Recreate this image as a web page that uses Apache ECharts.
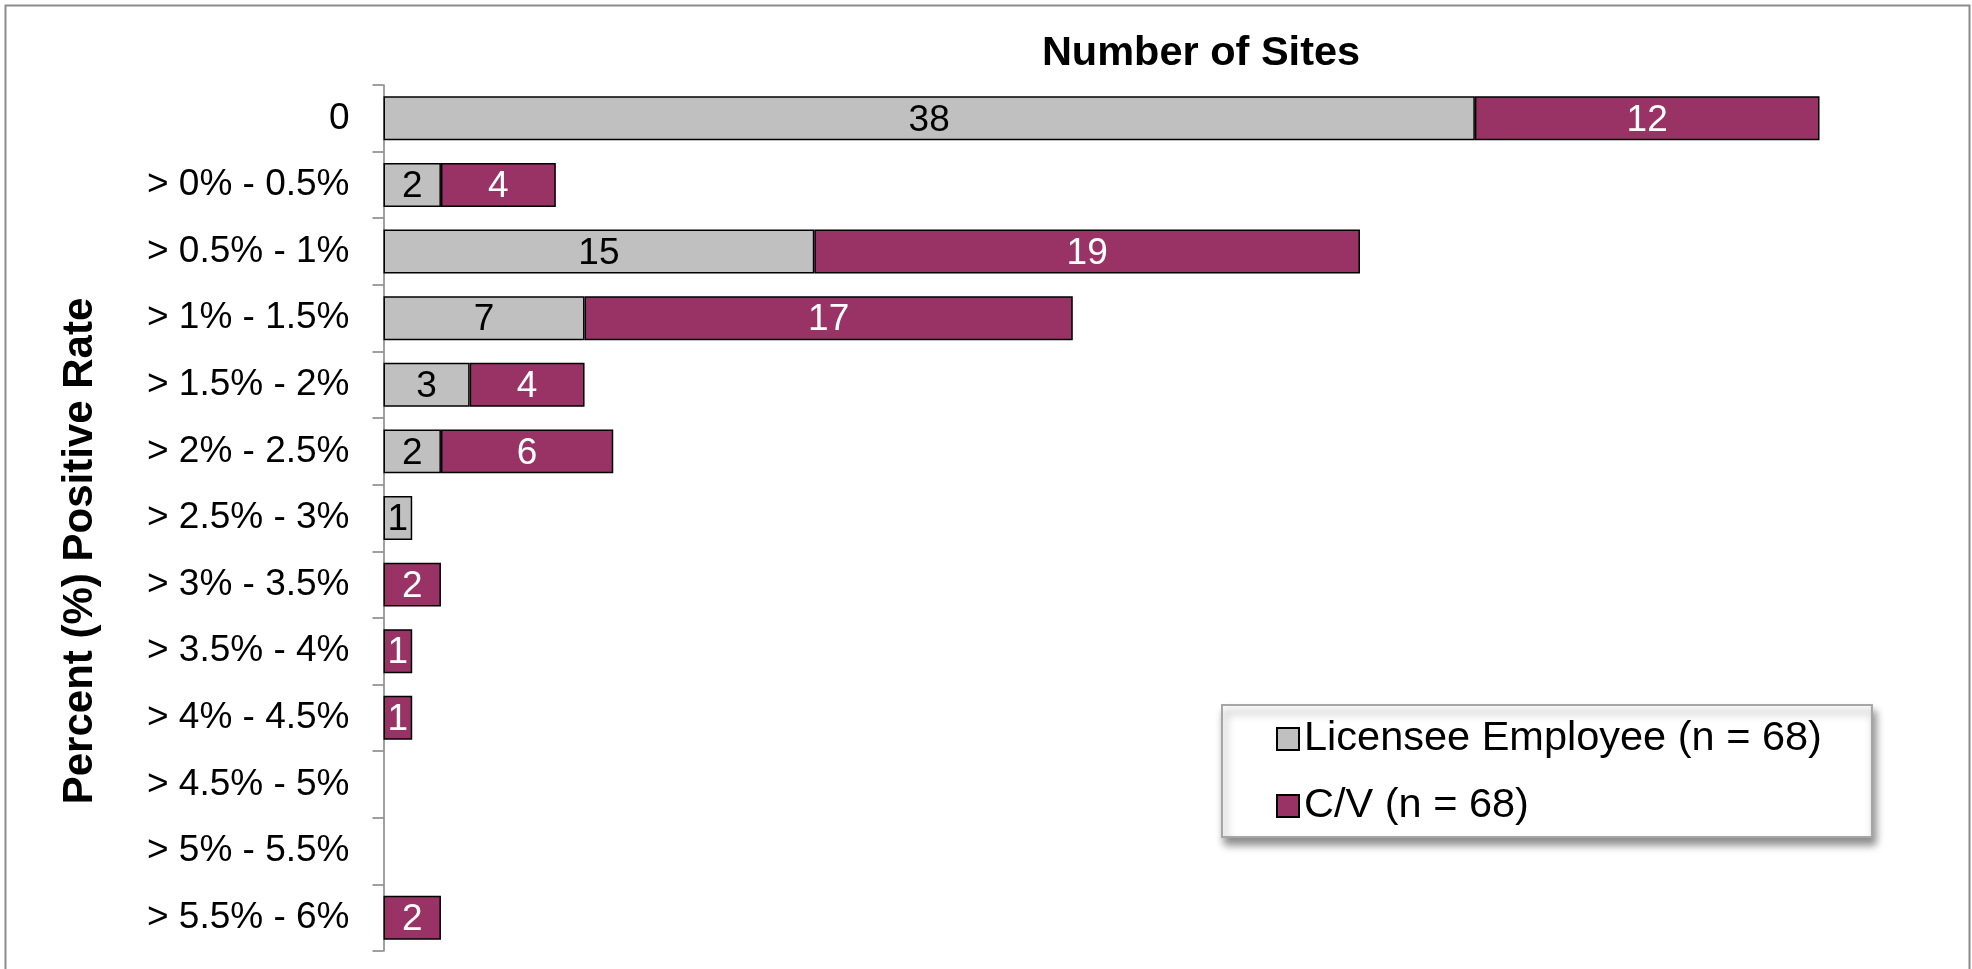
<!DOCTYPE html>
<html>
<head>
<meta charset="utf-8">
<script src="https://cdn.jsdelivr.net/npm/echarts@6/dist/echarts.min.js"></script>
<style>
html,body{margin:0;padding:0;background:#fff;}
#main{width:1972px;height:969px;}
</style>
</head>
<body>
<div id="main"></div>
<script>
// rate buckets, top to bottom
var categories = ['0', '> 0% - 0.5%', '> 0.5% - 1%', '> 1% - 1.5%', '> 1.5% - 2%', '> 2% - 2.5%',
    '> 2.5% - 3%', '> 3% - 3.5%', '> 3.5% - 4%', '> 4% - 4.5%', '> 4.5% - 5%', '> 5% - 5.5%', '> 5.5% - 6%'];
var licensee = [38, 2, 15, 7, 3, 2, 1, 0, 0, 0, 0, 0, 0];
var cv = [12, 4, 19, 17, 4, 6, 0, 2, 1, 1, 0, 0, 2];
var seriesNames = ['Licensee Employee (n = 68)', 'C/V (n = 68)'];

var font = 'Liberation Sans, Arial, sans-serif';

// empty buckets get no bar at all
function noZero(arr){
    return arr.map(function(v){ return v === 0 ? '-' : v; });
}

var chart = echarts.init(document.getElementById('main'));
var option = {
    animation: false,
    textStyle: { fontFamily: font },
    grid: { left: 383.5, right: 152.5, top: 85, bottom: 18, containLabel: false },
    xAxis: {
        type: 'value',
        min: 0,
        max: 50,
        show: false
    },
    yAxis: {
        type: 'category',
        inverse: true,
        data: categories,
        axisLine: { lineStyle: { color: '#808080', width: 1.5 } },
        axisTick: { show: true, length: 11, lineStyle: { color: '#808080', width: 1.5 } },
        axisLabel: { color: '#000', fontSize: 37, fontFamily: font, margin: 34 }
    },
    legend: {
        orient: 'vertical',
        left: 1222,
        top: 705,
        padding: [11, 50, 8, 54],
        itemGap: 21,
        itemWidth: 22,
        itemHeight: 22,
        itemTextGap: 8,
        icon: 'rect',
        backgroundColor: '#fff',
        borderColor: '#a6a6a6',
        borderWidth: 2,
        shadowColor: 'rgba(0,0,0,0.45)',
        shadowBlur: 8,
        shadowOffsetX: 3,
        shadowOffsetY: 7,
        textStyle: { fontSize: 41.5, lineHeight: 46, color: '#000', fontFamily: font },
        data: seriesNames
    },
    graphic: [
        {
            type: 'rect',
            shape: { x: 5.5, y: 5.5, width: 1964, height: 990 },
            style: { fill: 'none', stroke: '#8c8c8c', lineWidth: 2 },
            silent: true
        },
        {
            type: 'text',
            x: 1201, y: 54,
            style: { text: 'Number of Sites', fontSize: 41.5, fontWeight: 'bold', fontFamily: font,
                fill: '#000', align: 'center', verticalAlign: 'middle' }
        },
        {
            type: 'text',
            x: 80, y: 551,
            rotation: Math.PI / 2,
            style: { text: 'Percent (%) Positive Rate', fontSize: 42, fontWeight: 'bold', fontFamily: font,
                fill: '#000', align: 'center', verticalAlign: 'middle' }
        }
    ],
    series: [
        {
            name: seriesNames[0],
            type: 'bar',
            stack: 'sites',
            barCategoryGap: '34%',
            data: noZero(licensee),
            itemStyle: { color: '#c0c0c0', borderColor: '#000', borderWidth: 1.5 },
            label: { show: true, position: 'inside', color: '#000', fontSize: 37, fontFamily: font, offset: [0, 2] }
        },
        {
            name: seriesNames[1],
            type: 'bar',
            stack: 'sites',
            barCategoryGap: '34%',
            data: noZero(cv),
            itemStyle: { color: '#993366', borderColor: '#000', borderWidth: 1.5 },
            label: { show: true, position: 'inside', color: '#fff', fontSize: 37, fontFamily: font, offset: [0, 2] }
        }
    ]
};
chart.setOption(option);
</script>
</body>
</html>
